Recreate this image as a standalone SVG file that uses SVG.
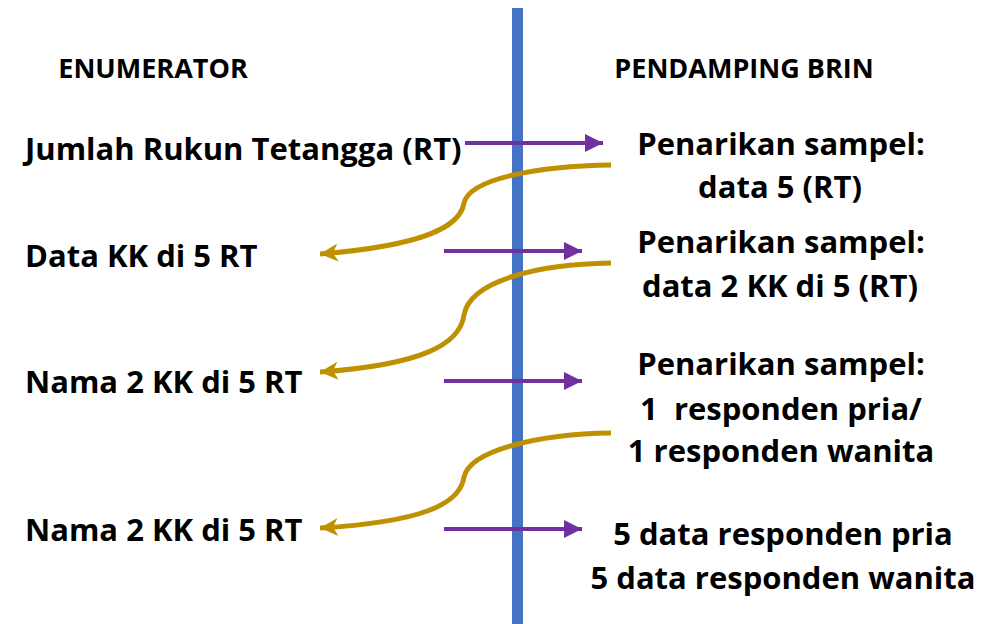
<svg xmlns="http://www.w3.org/2000/svg" width="1004" height="624" viewBox="0 0 1004 624">
<defs>
<style>
text{font-family:"Open Sans","Noto Sans","Liberation Sans",sans-serif;font-weight:bold;fill:#000}
.h{font-size:27px}
.t{font-size:31px}
.c{text-anchor:middle}
.p{stroke:#7030A0;stroke-width:4;fill:none}
.g{stroke:#BF9000;stroke-width:5;fill:none}
</style>
<marker id="pa" markerUnits="userSpaceOnUse" markerWidth="20" markerHeight="20" refX="18" refY="9" orient="auto" viewBox="0 0 20 18">
<path d="M0,0 L18,9 L0,18 Z" fill="#7030A0"/>
</marker>
<marker id="ga" markerUnits="userSpaceOnUse" markerWidth="20" markerHeight="20" refX="18" refY="9" orient="auto" viewBox="0 0 20 18">
<path d="M0,0 L18,9 L0,18 L5,9 Z" fill="#BF9000"/>
</marker>
</defs>
<rect width="1004" height="624" fill="#fff"/>
<rect id="divider" x="512" y="8" width="11" height="616" fill="#4472C4"/>
<g id="headers">
<text class="h c" x="153" y="78">ENUMERATOR</text>
<text class="h c" x="744" y="78">PENDAMPING BRIN</text>
</g>
<g id="enum1"><text class="t" x="25" y="160">Jumlah Rukun Tetangga (RT)</text></g>
<g id="enum2"><text class="t" x="25" y="267">Data KK di 5 RT</text></g>
<g id="enum3"><text class="t" x="25" y="393">Nama 2 KK di 5 RT</text></g>
<g id="enum4"><text class="t" x="25" y="541">Nama 2 KK di 5 RT</text></g>
<g id="brin1"><text class="t c" x="781" y="155">Penarikan sampel:</text><text class="t c" x="780" y="198">data 5 (RT)</text></g>
<g id="brin2"><text class="t c" x="781" y="253">Penarikan sampel:</text><text class="t c" x="780" y="297">data 2 KK di 5 (RT)</text></g>
<g id="brin3"><text class="t c" x="781" y="375">Penarikan sampel:</text><text class="t c" x="781" y="420" xml:space="preserve">1  responden pria/</text><text class="t c" x="781" y="462">1 responden wanita</text></g>
<g id="brin4"><text class="t c" x="783" y="545">5 data responden pria</text><text class="t c" x="783" y="589">5 data responden wanita</text></g>
<g id="connectors">
<line class="p" x1="465" y1="143" x2="603" y2="143" marker-end="url(#pa)"/>
<line class="p" x1="444" y1="251" x2="582" y2="251" marker-end="url(#pa)"/>
<line class="p" x1="444" y1="381" x2="582" y2="381" marker-end="url(#pa)"/>
<line class="p" x1="444" y1="529" x2="582" y2="529" marker-end="url(#pa)"/>
<path class="g" d="M611,165 C540,166 470,178 464,203 C460,228 420,246 320,254" marker-end="url(#ga)"/>
<path class="g" d="M611,263 C540,264 470,280 464,315 C460,345 420,365 320,372" marker-end="url(#ga)"/>
<path class="g" d="M611,433 C540,434 470,450 464,477 C460,505 420,522 320,528" marker-end="url(#ga)"/>
</g>
</svg>
